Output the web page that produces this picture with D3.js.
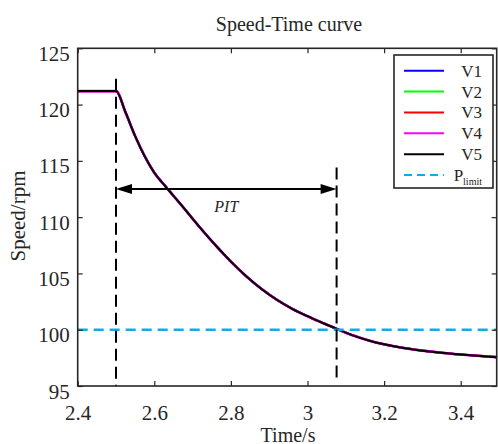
<!DOCTYPE html>
<html>
<head>
<meta charset="utf-8">
<script src="https://cdn.jsdelivr.net/npm/d3@7"></script>
<style>
  html, body { margin: 0; padding: 0; background: #fff; }
  svg { display: block; }
  text { font-family: "Liberation Serif", "Times New Roman", serif; fill: #262626; }
</style>
</head>
<body>
<div id="chart"></div>
<script>
// ---- data ----
var time = [2.40, 2.45, 2.50, 2.525, 2.55, 2.575, 2.60, 2.63, 2.67, 2.72, 2.76, 2.80, 2.84, 2.88,
            2.92, 2.96, 3.00, 3.04, 3.08, 3.12, 3.16, 3.20, 3.25, 3.30, 3.35, 3.40, 3.45, 3.495];
var v1 = [121.2, 121.2, 121.2, 119.3, 117.2, 115.4, 113.95, 112.7, 111.1, 109.05, 107.5, 106.05, 104.75, 103.62,
          102.66, 101.86, 101.2, 100.6, 100.02, 99.48, 99.04, 98.7, 98.38, 98.14, 97.95, 97.8, 97.67, 97.56];
var v2 = [121.2, 121.2, 121.2, 119.3, 117.2, 115.4, 113.95, 112.7, 111.1, 109.05, 107.5, 106.05, 104.75, 103.62,
          102.66, 101.86, 101.2, 100.6, 100.02, 99.48, 99.04, 98.7, 98.38, 98.14, 97.95, 97.8, 97.67, 97.56];
var v3 = [121.2, 121.2, 121.2, 119.3, 117.2, 115.4, 113.95, 112.7, 111.1, 109.05, 107.5, 106.05, 104.75, 103.62,
          102.66, 101.86, 101.2, 100.6, 100.02, 99.48, 99.04, 98.7, 98.38, 98.14, 97.95, 97.8, 97.67, 97.56];
var v4 = [121.2, 121.2, 121.2, 119.3, 117.2, 115.4, 113.95, 112.7, 111.1, 109.05, 107.5, 106.05, 104.75, 103.62,
          102.66, 101.86, 101.2, 100.6, 100.02, 99.48, 99.04, 98.7, 98.38, 98.14, 97.95, 97.8, 97.67, 97.56];
var v5 = [121.2, 121.2, 121.2, 119.3, 117.2, 115.4, 113.95, 112.7, 111.1, 109.05, 107.5, 106.05, 104.75, 103.62,
          102.66, 101.86, 101.2, 100.6, 100.02, 99.48, 99.04, 98.7, 98.38, 98.14, 97.95, 97.8, 97.67, 97.56];

var seriesNames = ["V1", "V2", "V3", "V4", "V5"];
var seriesColors = ["#0000ff", "#00ff00", "#ff0000", "#ff00ff", "#000000"];
var seriesValues = [v1, v2, v3, v4, v5];

var pLimit = 100;
var pitStart = 2.5;
var pitEnd = 3.076;
var pitLevel = 112.5;
var pitTop = [122.3, 114.4];   // top of the two dashed markers
var pitBottom = [95, 95.7];

var xTicks = [2.4, 2.6, 2.8, 3, 3.2, 3.4];
var yTicks = [95, 100, 105, 110, 115, 120, 125];
var xDomain = [2.4, 3.494];
var yDomain = [95, 125];

// ---- layout ----
var W = 498, H = 444;
var m = {left: 77.7, right: 496.7, top: 48.3, bottom: 386};

var svg = d3.select("#chart").append("svg").attr("width", W).attr("height", H);

var x = d3.scaleLinear().domain(xDomain).range([m.left, m.right]);
var y = d3.scaleLinear().domain(yDomain).range([m.bottom, m.top]);

var axisColor = "#262626";

// lines
var line = d3.line().x(function(d){ return x(d[0]); }).y(function(d){ return y(d[1]); })
  .curve(d3.curveMonotoneX);

seriesValues.forEach(function(vals, i){
  svg.append("path")
    .datum(time.map(function(t, j){ return [t, vals[j]]; }))
    .attr("d", line)
    .attr("fill", "none")
    .attr("stroke", seriesColors[i])
    .attr("stroke-width", i === 3 ? 2.6 : (i === 4 ? 2 : 2.2))
    .attr("stroke-linejoin", "round");
});

// P limit
svg.append("line")
  .attr("x1", x(xDomain[0])).attr("x2", x(xDomain[1]))
  .attr("y1", y(pLimit)).attr("y2", y(pLimit))
  .attr("stroke", "#12aae6").attr("stroke-width", 2.5)
  .attr("stroke-dasharray", "10,6");

// dashed markers
[pitStart, pitEnd].forEach(function(t, i){
  svg.append("line")
    .attr("x1", x(t)).attr("x2", x(t))
    .attr("y1", y(pitTop[i])).attr("y2", y(pitBottom[i]))
    .attr("stroke", "#000").attr("stroke-width", 2)
    .attr("stroke-dasharray", "12,6");
});

// double arrow
var ay = y(pitLevel), ax1 = x(pitStart), ax2 = x(pitEnd);
svg.append("line")
  .attr("x1", ax1 + 8).attr("x2", ax2 - 8)
  .attr("y1", ay).attr("y2", ay)
  .attr("stroke", "#000").attr("stroke-width", 2);
svg.append("path")
  .attr("d", "M" + ax1 + "," + ay + "L" + (ax1 + 16) + "," + (ay - 5) + "L" + (ax1 + 16) + "," + (ay + 5) + "Z")
  .attr("fill", "#000");
svg.append("path")
  .attr("d", "M" + ax2 + "," + ay + "L" + (ax2 - 16) + "," + (ay - 5) + "L" + (ax2 - 16) + "," + (ay + 5) + "Z")
  .attr("fill", "#000");
svg.append("text")
  .attr("x", (ax1 + ax2) / 2).attr("y", ay + 23)
  .attr("text-anchor", "middle")
  .style("font-size", "16px").style("font-style", "italic")
  .text("PIT");

// axes
var gx = svg.append("g").attr("transform", "translate(0," + m.bottom + ")")
  .call(d3.axisBottom(x).tickValues(xTicks).tickSizeInner(-5).tickSizeOuter(0).tickFormat(d3.format("")));
gx.select(".domain").remove();
gx.selectAll("line").attr("stroke", axisColor).attr("stroke-width", 1.2);
gx.selectAll("text").attr("y", 34).attr("dy", null)
  .style("font-size", "21px").attr("fill", axisColor);

var gy = svg.append("g").attr("transform", "translate(" + m.left + ",0)")
  .call(d3.axisLeft(y).tickValues(yTicks).tickSizeInner(-5).tickSizeOuter(0));
gy.select(".domain").remove();
gy.selectAll("line").attr("stroke", axisColor).attr("stroke-width", 1.2);
gy.selectAll("text").attr("x", -8).attr("dy", "12").attr("y", 0)
  .style("font-size", "21px").attr("fill", axisColor);

// top / right ticks (mirrored)
svg.append("g").attr("transform", "translate(0," + m.top + ")")
  .call(d3.axisTop(x).tickValues(xTicks).tickSizeInner(-5).tickSizeOuter(0).tickFormat(""))
  .call(function(g){ g.select(".domain").remove(); g.selectAll("line").attr("stroke", axisColor).attr("stroke-width", 1.2); });
svg.append("g").attr("transform", "translate(" + m.right + ",0)")
  .call(d3.axisRight(y).tickValues(yTicks).tickSizeInner(-5).tickSizeOuter(0).tickFormat(""))
  .call(function(g){ g.select(".domain").remove(); g.selectAll("line").attr("stroke", axisColor).attr("stroke-width", 1.2); });

// frame
svg.append("rect")
  .attr("x", m.left).attr("y", m.top)
  .attr("width", m.right - m.left).attr("height", m.bottom - m.top)
  .attr("fill", "none").attr("stroke", axisColor).attr("stroke-width", 1.6);

// title and labels
svg.append("text").attr("x", 289).attr("y", 31).attr("text-anchor", "middle")
  .style("font-size", "20px").text("Speed-Time curve");
svg.append("text").attr("x", 288).attr("y", 442).attr("text-anchor", "middle")
  .style("font-size", "20px").text("Time/s");
svg.append("text").attr("transform", "translate(25,216) rotate(-90)").attr("text-anchor", "middle")
  .style("font-size", "21px").text("Speed/rpm");

// legend
var lg = svg.append("g");
lg.append("rect").attr("x", 394).attr("y", 55).attr("width", 99).attr("height", 133)
  .attr("fill", "#fff").attr("stroke", axisColor).attr("stroke-width", 1.6);
var rowY = d3.scalePoint().domain(d3.range(6)).range([70.7, 175]);
seriesNames.forEach(function(n, i){
  lg.append("line").attr("x1", 404).attr("x2", 444).attr("y1", rowY(i)).attr("y2", rowY(i))
    .attr("stroke", seriesColors[i]).attr("stroke-width", 2);
  lg.append("text").attr("x", 482).attr("y", rowY(i) + 6).attr("text-anchor", "end")
    .style("font-size", "17px").text(n);
});
lg.append("line").attr("x1", 404).attr("x2", 444).attr("y1", rowY(5)).attr("y2", rowY(5))
  .attr("stroke", "#12aae6").attr("stroke-width", 2).attr("stroke-dasharray", "8,5");
var pt = lg.append("text").attr("x", 482).attr("y", rowY(5) + 6).attr("text-anchor", "end")
  .style("font-size", "17px");
pt.append("tspan").text("P");
pt.append("tspan").attr("dy", 4).style("font-size", "10px").text("limit");
</script>
</body>
</html>
